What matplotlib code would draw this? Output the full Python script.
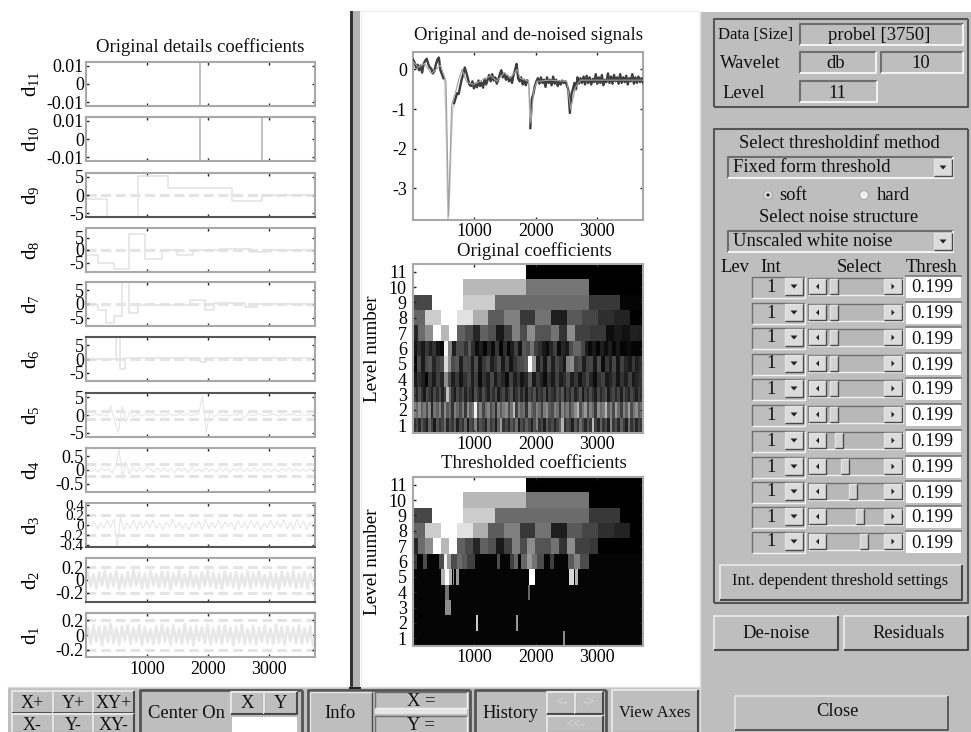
import numpy as np
import matplotlib
matplotlib.use('Agg')
import matplotlib.pyplot as plt
from matplotlib.patches import Rectangle, Circle, Polygon

plt.rcParams['font.family'] = ['Liberation Serif', 'DejaVu Serif']
plt.rcParams['mathtext.fontset'] = 'custom'
plt.rcParams['mathtext.rm'] = 'Liberation Serif'

W, H = 971, 732
GRAY = '#bebebe'

# --- detail coefficients, left column ---
d11_spikes = [1870]
d10_spikes = [1870, 2890]
d9_edges = [1, 340, 846, 1345, 2385, 2885, 3750]
d9_vals = [-1, -6, 5.3, 1.8, -1.5, 0, 0]
d8_edges = [1, 200, 459, 707, 970, 1240, 1490, 1750, 2200, 2700, 2950, 3750]
d8_vals = [-1.8, -5, -7.5, 6.5, -3.7, 0.2, -2, 0.2, 0.5, -0.8, 0, 0]
d7_edges = [1, 200, 328, 459, 585, 707, 846, 1700, 1950, 2090, 2600, 2800, 3750]
d7_vals = [-0.5, -2, -7, -4.5, 8, -3.2, -0.3, 1.5, -2, 0.3, -1, 0, 0]
d6_edges = [1, 490, 557, 640, 1860, 1960, 3750]
d6_vals = [0, 8, -3.5, 0.2, -1, 0.2, 0.2]
d5_vals = [0.1, -0.2, 0.3, -0.1, 0.2, -0.3, 2.5, -1.5, -5.0, 2.5, -2, 0.8, -0.5, 0.5, -0.3, 0.2, -0.1, 0.3, -0.2, 0.1, -0.3,
           0.2, 0.1, -0.2, 0.3, -0.1, 0.2, -0.2, 0.1, 0.3, 5.2, -5.0, 1.2, -0.5, 0.3, -0.2, 0.1, -0.3, 0.2, -0.1, 0.6, -0.9,
           0.4, -0.2, 0.1, 0.3, -0.1, -0.2, 0.2, 0.1, -0.3, 0.2, -0.1, 0.1, 0.2, -0.2, 0.1, -0.1, 0.1, 0.0]
d4_vals = [0.05, -0.06, 0.04, -0.08, 0.07, -0.03, 0.06, -0.1, 0.12, 0.75, -0.3, 0.3, -0.15, 0.1, -0.06, 0.08, -0.05, 0.1,
           0.05, -0.08, 0.06, -0.04, 0.08, -0.06, 0.05, -0.1, 0.07, -0.04, 0.06, -0.09, 0.1, -0.05, 0.04, -0.07, 0.09, -0.06,
           0.05, -0.08, 0.1, -0.06, 0.07, -0.09, 0.05, -0.05, 0.08, -0.07, 0.05, -0.06, 0.09, -0.05, 0.07, -0.08, 0.05, -0.06,
           0.04, -0.07, 0.06, -0.05, 0.08, -0.04, 0.05, -0.06, 0.03, -0.05, 0.04, -0.03]
d3_vals = [0.06, -0.03, 0.05, -0.08, 0.04, -0.06, 0.09, -0.05, 0.12, -0.45, 0.16, -0.1, 0.05, -0.07, 0.1, -0.09, 0.07, -0.06,
           0.08, -0.05, 0.1, -0.07, 0.04, -0.09, 0.06, -0.04, 0.12, -0.06, 0.05, -0.08, 0.04, -0.1, 0.06, -0.05, 0.08, -0.09,
           0.12, -0.07, 0.05, -0.06, 0.1, -0.08, 0.07, -0.04, 0.05, -0.1, 0.09, -0.06, 0.05, -0.08, 0.11, -0.05, 0.07, -0.1,
           0.04, -0.06, 0.09, -0.07, 0.06, -0.04, 0.1, -0.08, 0.05, -0.09, 0.12, -0.06, 0.08, -0.1, 0.05, -0.07]
d2_vals = [0.12, -0.1, 0.09, -0.13, 0.11, -0.08, 0.14, -0.12, 0.1, -0.09, 0.13, -0.14, 0.08, -0.11, 0.12, -0.1, 0.15, -0.09,
           0.11, -0.13, 0.1, -0.12, 0.14, -0.08, 0.09, -0.11, 0.13, -0.1, 0.12, -0.14, 0.1, -0.08, 0.15, -0.12, 0.09, -0.1,
           0.13, -0.11, 0.08, -0.13, 0.12, -0.09, 0.14, -0.1, 0.11, -0.12, 0.09, -0.14, 0.13, -0.08, 0.1, -0.11, 0.12, -0.13,
           0.09, -0.1, 0.14, -0.12, 0.11, -0.09, 0.13, -0.1, 0.08, -0.12, 0.12, -0.11, 0.1, -0.14, 0.13, -0.09, 0.11, -0.1,
           0.14, -0.12, 0.09, -0.11, 0.12, -0.13, 0.1, -0.08]
d1_vals = [0.1, -0.12, 0.13, -0.09, 0.11, -0.14, 0.12, -0.1, 0.15, -0.11, 0.09, -0.13, 0.12, -0.08, 0.14, -0.12, 0.1, -0.09,
           0.13, -0.14, 0.11, -0.1, 0.08, -0.12, 0.12, -0.11, 0.14, -0.09, 0.1, -0.13, 0.13, -0.1, 0.09, -0.12, 0.15, -0.11,
           0.11, -0.14, 0.12, -0.08, 0.1, -0.11, 0.14, -0.13, 0.09, -0.1, 0.12, -0.12, 0.13, -0.09, 0.1, -0.14, 0.11, -0.1,
           0.14, -0.12, 0.08, -0.11, 0.12, -0.13, 0.1, -0.09, 0.13, -0.11, 0.09, -0.12, 0.14, -0.1, 0.11, -0.13, 0.12, -0.08,
           0.1, -0.11, 0.13, -0.12, 0.09, -0.1, 0.12, -0.14]

detail_names = ['d11', 'd10', 'd9', 'd8', 'd7', 'd6', 'd5', 'd4', 'd3', 'd2', 'd1']
detail_limits = [0.012, 0.012, 6, 8.8, 8, 8, 6.2, 0.8, 0.44, 0.34, 0.3]
detail_thresh = [None, None, 0.1, 0.1, 0.1, 0.1, 1, 0.22, 0.2, 0.2, 0.2]
detail_ticks = [[-0.01, 0, 0.01], [-0.01, 0, 0.01], [-5, 0, 5], [-5, 0, 5], [-5, 0, 5], [-5, 0, 5], [-5, 0, 5],
                [-0.5, 0, 0.5], [-0.4, -0.2, 0, 0.2, 0.4], [-0.2, 0, 0.2], [-0.2, 0, 0.2]]
detail_ticklabels = [['-0.01', '0', '0.01'], ['-0.01', '0', '0.01'], ['-5', '0', '5'], ['-5', '0', '5'], ['-5', '0', '5'],
                     ['-5', '0', '5'], ['-5', '0', '5'], ['-0.5', '0', '0.5'], ['-0.4', '-0.2', '0', '0.2', '0.4'],
                     ['-0.2', '0', '0.2'], ['-0.2', '0', '0.2']]
detail_tops = [62, 117, 173, 228, 282, 337, 393, 448, 503, 558, 613]
detail_dark = {'d9': 'bottom', 'd6': 'top', 'd5': 'top', 'd3': 'bottom', 'd2': 'bottom'}

# --- signal panel ---
signal_y = [0.25, 0.18, 0.05, 0.12, -0.02, 0.10, -0.08, 0.14, 0.22, 0.27, 0.14, 0.05, 0.02, -0.10, -0.04, 0.12, 0.25, 0.30,
            -0.02, -0.12, -0.22, -0.32, -1.8, -3.8, -3.1, -1.9, -1.0, -0.85, -0.72, -0.6, -0.62, -0.42, -0.25, -0.12,
            0.05, -0.08, -0.22, -0.38, -0.42, -0.3, -0.48, -0.36, -0.45, -0.28, -0.42, -0.33, -0.46, -0.24, -0.38, -0.26,
            -0.14, -0.3, -0.12, -0.28, -0.2, -0.36, -0.26, -0.12, -0.02, -0.2, -0.1, -0.26, -0.16, -0.3, -0.2, -0.34,
            -0.14, -0.02, 0.14, -0.22, -0.3, -0.2, -0.38, -0.26, -0.4, -0.28, -0.4, -1.48, -0.75, -0.62, -0.42, -0.3,
            -0.22, -0.36, -0.2, -0.34, -0.26, -0.44, -0.2, -0.34, -0.26, -0.4, -0.18, -0.36, -0.26, -0.42, -0.3, -0.38,
            -0.28, -0.34, -0.3, -0.4, -0.52, -1.1, -0.62, -0.5, -0.34, -0.5, -0.2, -0.36, -0.22, -0.34, -0.18, -0.38,
            -0.16, -0.34, -0.2, -0.38, -0.24, -0.32, -0.12, -0.36, -0.2, -0.34, -0.14, -0.4, -0.26, -0.32, -0.1, -0.34,
            -0.18, -0.36, -0.14, -0.3, -0.2, -0.36, -0.12, -0.34, -0.2, -0.32, -0.16, -0.38, -0.22, -0.3, -0.12, -0.36,
            -0.2, -0.34, -0.18, -0.32, -0.22, -0.34]
denoised_x = [1, 90, 190, 300, 450, 540, 581, 630, 690, 744, 800, 880, 988, 1125, 1271, 1369, 1489, 1586, 1695, 1750, 1885,
              1923, 1967, 2021, 2230, 2510, 2570, 2650, 2730, 3750]
denoised_y = [0.2, 0.05, 0.15, -0.1, 0.1, -0.3, -3.7, -0.9, -0.6, -0.27, 0.0, -0.33, -0.38, -0.27, -0.16, -0.3, -0.08, -0.22,
              0.0, -0.22, -0.3, -1.35, -0.55, -0.3, -0.27, -0.3, -1.0, -0.45, -0.27, -0.27]

# --- coefficient images: brightness per cell ---
level_11 = [1, 0]
level_10 = [1, 0.72, 0.46, 0]
level_9 = [0.28, 1, 0.8, 0.42, 0.42, 0.42, 0.22, 0.02]
level_8 = [0.4, 0.8, 1, 0.88, 0.68, 0.36, 0.5, 0.22, 0.45, 0.12, 0.35, 0.27, 0.18, 0.14, 0]
level_7 = [0.15, 0.42, 0.55, 1, 0.72, 1, 0.38, 0.3, 0.15, 0.38, 0.32, 0.1, 0.25, 0.5, 0.3, 0.55, 0.33, 0.33, 0.45, 0.2, 0.55,
           0.25, 0.25, 0.22, 0.22, 0.05, 0.1, 0.07, 0.13, 0.12]
level_6 = [0.08, 0.18, 0.1, 0.22, 0.12, 0.2, 0.08, 0.04, 0.95, 0.5, 0.12, 0.3, 0.3, 0.2, 0.35, 0.18, 0.05, 0.12, 0.02, 0.15,
           0.05, 0.22, 0.02, 0.18, 0.02, 0.12, 0.25, 0.08, 0.35, 0.3, 0.45, 0.25, 0.18, 0.1, 0.05, 0.15, 0.25, 0.05, 0.15, 0.1,
           0.3, 0.4, 0.4, 0.28, 0.12, 0.04, 0.1, 0.02, 0.12, 0.05, 0.12, 0.03, 0.1, 0.02, 0.02, 0.05, 0.02, 0.02, 0.01]
level_5 = [0.02, 0.3, 0.1, 0.28, 0.33, 0.15, 0.25, 0.3, 0.85, 0.55, 0.3, 0.35, 0.12, 0.3, 0.28, 0.12, 0.3, 0.08, 0.22, 0.3,
           0.12, 0.2, 0.3, 0.1, 0.25, 0.08, 0.2, 0.28, 0.3, 0.35, 1.0, 0.6, 0.12, 0.25, 0.08, 0.3, 0.12, 0.28, 0.2, 0.1,
           0.5, 0.55, 0.25, 0.3, 0.12, 0.25, 0.28, 0.1, 0.3, 0.05, 0.22, 0.12, 0.28, 0.08, 0.25, 0.15, 0.1, 0.22, 0.12, 0.18]
level_4 = [0.1, 0.2, 0.12, 0.02, 0.22, 0.1, 0.25, 0.15, 0.55, 0.3, 0.12, 0.22, 0.08, 0.2, 0.28, 0.12, 0.25, 0.05, 0.2, 0.12,
           0.28, 0.1, 0.22, 0.15, 0.05, 0.25, 0.12, 0.2, 0.08, 0.15, 0.35, 0.1, 0.22, 0.14, 0.05, 0.2, 0.1, 0.25, 0.12, 0.18,
           0.3, 0.12, 0.22, 0.08, 0.18, 0.28, 0.15, 0.05, 0.2, 0.25, 0.1, 0.15, 0.22, 0.08, 0.2, 0.12, 0.25, 0.1, 0.15, 0.2]
level_3 = [0.25, 0.15, 0.32, 0.2, 0.1, 0.3, 0.22, 0.12, 0.28, 0.18, 0.3, 0.14, 0.25, 0.75, 0.4, 0.2, 0.1, 0.28, 0.2, 0.3,
           0.14, 0.26, 0.18, 0.1, 0.32, 0.22, 0.14, 0.3, 0.2, 0.12, 0.28, 0.18, 0.3, 0.1, 0.22, 0.28, 0.14, 0.24, 0.32, 0.12,
           0.2, 0.3, 0.16, 0.26, 0.1, 0.28, 0.2, 0.32, 0.14, 0.24, 0.18, 0.3, 0.1, 0.26, 0.2, 0.14, 0.3, 0.22, 0.34, 0.12,
           0.25, 0.18, 0.3, 0.14, 0.22, 0.32, 0.1, 0.26, 0.18, 0.3, 0.2, 0.12, 0.28, 0.16, 0.24, 0.3, 0.1, 0.22, 0.28, 0.16,
           0.26, 0.12, 0.3, 0.2, 0.14, 0.28, 0.2, 0.12, 0.24, 0.18]
level_2 = [0.5, 0.42, 0.55, 0.38, 0.48, 0.3, 0.52, 0.15, 0.45, 0.38, 0.5, 0.25, 0.55, 0.35, 0.42, 0.2, 0.5, 0.4, 0.3, 0.48,
           0.22, 0.55, 0.38, 0.45, 0.95, 0.35, 0.5, 0.28, 0.44, 0.52, 0.3, 0.42, 0.18, 0.5, 0.36, 0.48, 0.55, 0.3, 0.45, 0.72,
           0.25, 0.5, 0.38, 0.44, 0.2, 0.52, 0.4, 0.32, 0.5, 0.42, 0.25, 0.48, 0.55, 0.35, 0.3, 0.5, 0.44, 0.22, 0.52, 0.38,
           0.48, 0.28, 0.42, 0.55, 0.7, 0.32, 0.46, 0.6, 0.3, 0.5, 0.4, 0.22, 0.55, 0.42, 0.48, 0.72, 0.35, 0.5, 0.28, 0.6,
           0.42, 0.25, 0.5, 0.38, 0.62, 0.3, 0.45, 0.55, 0.35, 0.42]
level_1 = [0.2, 0.3, 0.15, 0.35, 0.22, 0.12, 0.38, 0.25, 0.1, 0.32, 0.2, 0.28, 0.42, 0.15, 0.3, 0.22, 0.35, 0.12, 0.28, 0.2,
           0.38, 0.1, 0.3, 0.24, 0.5, 0.18, 0.32, 0.25, 0.14, 0.4, 0.22, 0.3, 0.12, 0.36, 0.6, 0.2, 0.28, 0.16, 0.34, 0.24,
           0.42, 0.12, 0.3, 0.2, 0.36, 0.26, 0.14, 0.32, 0.5, 0.2, 0.28, 0.12, 0.35, 0.22, 0.3, 0.15, 0.26, 0.38, 0.7, 0.18,
           0.3, 0.24, 0.12, 0.34, 0.2, 0.42, 0.28, 0.15, 0.32, 0.22, 0.72, 0.26, 0.14, 0.38, 0.2, 0.3, 0.12, 0.52, 0.22, 0.32,
           0.16, 0.36, 0.24, 0.12, 0.42, 0.2, 0.3, 0.15, 0.28, 0.22]
orig_levels = [level_1, level_2, level_3, level_4, level_5, level_6, level_7, level_8, level_9, level_10, level_11]
# anchor of the cell grid and cell step for the coarse levels
coarse_anchor = {11: 1847, 10: 1847, 9: 1847, 8: 1739, 7: 1739}
coarse_step = {11: 2048, 10: 1024, 9: 512, 8: 256, 7: 128}

th_level_7 = [0.15, 0.42, 0.55, 1, 0.72, 1, 0.38, 0.3, 0.15, 0.38, 0.32, 0.1, 0.25, 0.5, 0.3, 0.55, 0.33, 0.33, 0.45, 0.2, 0.55,
              0.25, 0.25, 0.22, 0, 0, 0, 0, 0, 0]
th_level_8 = level_8
th_level_9 = [0.28, 1, 0.8, 0.42, 0.42, 0.42, 0.22, 0]
th_cells = {
    6: [(10, 65, 0.25), (158, 228, 0.3), (430, 500, 0.3), (500, 554, 0.95), (554, 620, 0.6), (620, 717, 0.3), (717, 800, 0.42),
        (800, 880, 0.35), (880, 1016, 0.25), (1369, 1423, 0.3), (1576, 1640, 0.25), (1640, 1706, 0.4), (1760, 1858, 0.4),
        (1858, 1940, 0.6), (1940, 2021, 0.45), (2021, 2130, 0.3), (2238, 2293, 0.25), (2521, 2619, 0.35), (2619, 2727, 0.5),
        (2727, 2863, 0.3)],
    5: [(460, 516, 0.7), (516, 581, 1.0), (581, 635, 0.7), (646, 673, 0.55), (700, 744, 0.6), (1885, 1995, 1.0), (2543, 2620, 0.85),
        (2640, 2684, 0.7)],
    4: [(516, 581, 0.45), (1870, 1905, 0.4)],
    3: [(527, 620, 0.55)],
    2: [(1030, 1057, 0.8), (1680, 1710, 0.6)],
    1: [(2440, 2472, 0.55)],
}

# --- control panel ---
slider_thumbs = [834, 834, 834, 834, 834, 834, 839, 845, 853, 860, 864]
row_centers = [287, 313, 338, 364, 389, 415, 441, 467, 492, 517, 542]
thresh_values = ['0.199'] * 11

xticks = [1000, 2000, 3000]
xticklabels = ['1000', '2000', '3000']
level_ticks = list(range(1, 12))
signal_ticks = [-3, -2, -1, 0]
signal_ticklabels = ['-3', '-2', '-1', '0']

fig = plt.figure(figsize=(W / 100, H / 100), dpi=100, facecolor='white')
bg = fig.add_axes([0, 0, 1, 1], zorder=0)
bg.set_xlim(0, W)
bg.set_ylim(H, 0)
bg.axis('off')


def box(x0, y0, x1, y1, face=GRAY, style='raised', lw=1.5):
    """Draw a Motif style bevelled rectangle on the background axes."""
    bg.add_patch(Rectangle((x0, y0), x1 - x0, y1 - y0, facecolor=face, edgecolor='none'))
    if style == 'raised':
        tl, br = '#e4e4e4', '#4a4a4a'
    elif style == 'sunken':
        tl, br = '#6e6e6e', '#f2f2f2'
    elif style == 'frame':
        tl, br = '#555555', '#555555'
    else:
        return
    bg.plot([x0, x0, x1], [y1, y0, y0], color=tl, lw=lw, solid_capstyle='butt')
    bg.plot([x0, x1, x1], [y1, y1, y0], color=br, lw=lw, solid_capstyle='butt')


def label(x, y, s, size=13.4, ha='center', color='#111111'):
    bg.text(x, y + 2, s, fontsize=size, ha=ha, va='center', color=color)


def arrow_button(x0, y0, x1, y1, direction):
    box(x0, y0, x1, y1, face='#dcdcdc', style='raised', lw=1)
    cx, cy = (x0 + x1) / 2, (y0 + y1) / 2
    if direction == 'down':
        pts = [(cx - 3.5, cy - 2), (cx + 3.5, cy - 2), (cx, cy + 2)]
    elif direction == 'left':
        pts = [(cx + 1.5, cy - 3), (cx + 1.5, cy + 3), (cx - 1.5, cy)]
    else:
        pts = [(cx - 1.5, cy - 3), (cx - 1.5, cy + 3), (cx + 1.5, cy)]
    bg.add_patch(Polygon(pts, facecolor='#222222', edgecolor='none'))


# window chrome
bg.add_patch(Rectangle((700, 12), 271, 720, facecolor=GRAY, edgecolor='none'))
bg.plot([700, 700], [12, 732], color='#dddddd', lw=1)
bg.add_patch(Rectangle((8, 687), 692, 45, facecolor=GRAY, edgecolor='none'))
bg.plot([8, 700], [687, 687], color='#dddddd', lw=1)
# vertical divider
bg.add_patch(Rectangle((350, 11), 10, 677, facecolor='#b4b4b4', edgecolor='none'))
bg.add_patch(Rectangle((350, 11), 2.5, 677, facecolor='#333333', edgecolor='none'))
bg.plot([360.5, 360.5], [11, 687], color='#eeeeee', lw=1)
bg.plot([361, 699], [11, 11], color='#eeeeee', lw=1)
bg.plot([350, 360], [688, 688], color='#222222', lw=1.5)

# bottom toolbar
for (x0, x1, t1, t2) in [(12, 53, 'X+', 'X-'), (53, 93, 'Y+', 'Y-'), (93, 134, 'XY+', 'XY-')]:
    box(x0, 691, x1, 713)
    box(x0, 714, x1, 733)
    label((x0 + x1) / 2, 701, t1, size=13)
    label((x0 + x1) / 2, 723, t2, size=13)
box(140, 690, 302, 733, style='frame', lw=2)
label(186, 711, 'Center On')
box(231, 692, 264, 714)
box(264, 692, 297, 714)
label(247, 701, 'X')
label(281, 701, 'Y')
box(232, 717, 297, 733, face='white', style='none')
box(308, 690, 470, 733, style='frame', lw=2)
box(310, 692, 372, 733, lw=1)
label(340, 711, 'Info')
box(375, 692, 467, 708, style='sunken', lw=1)
box(375, 709, 467, 714, face='#e6e6e6', style='none')
box(375, 716, 467, 733, style='sunken', lw=1)
label(421, 700, 'X =')
label(421, 723, 'Y =')
box(475, 690, 606, 733, style='frame', lw=2)
label(510, 711, 'History')
box(547, 692, 575, 714)
box(575, 692, 603, 714)
box(547, 716, 603, 733)
label(561, 701, '<-', size=10, color='#dddddd')
label(589, 701, '->', size=10, color='#dddddd')
label(575, 723, '<<-', size=10, color='#dddddd')
box(612, 690, 698, 733)
label(655, 711, 'View Axes', size=11.8)

# right panel, top group
box(714, 19, 968, 107, style='frame', lw=1.5)
label(718, 33, 'Data [Size]', ha='left', size=12)
box(800, 24, 963, 45, style='sunken')
label(879, 33, 'probel [3750]')
label(720, 61, 'Wavelet', ha='left')
box(800, 52, 876, 73, style='sunken')
label(836, 61, 'db')
box(881, 52, 963, 73, style='sunken')
label(921, 61, '10')
label(722, 91, 'Level', ha='left')
box(800, 81, 877, 102, style='sunken')
label(837, 91, '11')

# right panel, thresholding group
box(714, 129, 968, 603, style='frame', lw=1.5)
label(839, 141, 'Select thresholdinf method')
box(728, 157, 953, 178, style='sunken')
label(733, 165, 'Fixed form threshold', ha='left')
arrow_button(934, 159, 952, 176, 'down')
bg.add_patch(Circle((768, 195), 4.5, facecolor='#dddddd', edgecolor='#aaaaaa', lw=0.8))
bg.add_patch(Circle((768, 195), 1.5, facecolor='#111111', edgecolor='none'))
label(779, 193, 'soft', ha='left')
bg.add_patch(Circle((864, 195), 4.5, facecolor='#eeeeee', edgecolor='#aaaaaa', lw=0.8))
label(877, 193, 'hard', ha='left')
label(839, 216, 'Select noise structure')
box(728, 231, 953, 252, style='sunken')
label(733, 239, 'Unscaled white noise', ha='left')
arrow_button(934, 233, 952, 250, 'down')
label(720, 265, 'Lev', ha='left')
label(760, 265, 'Int', ha='left')
label(859, 265, 'Select')
label(932, 265, 'Thresh')
for yc, thumb, val in zip(row_centers, slider_thumbs, thresh_values):
    box(752, yc - 10, 805, yc + 11, style='sunken', lw=1)
    label(771, yc - 2, '1')
    arrow_button(785, yc - 9, 803, yc + 8, 'down')
    box(808, yc - 9, 903, yc + 8, face='#b8b8b8', style='sunken', lw=1)
    arrow_button(809, yc - 8, 826, yc + 7, 'left')
    arrow_button(884, yc - 8, 902, yc + 7, 'right')
    box(thumb - 4, yc - 8, thumb + 4, yc + 7, face='#d2d2d2', lw=1)
    box(906, yc - 11, 961, yc + 11, face='white', style='none')
    bg.plot([906, 961], [yc - 11, yc - 11], color='#777777', lw=1.2)
    label(932, yc - 1, val)
box(720, 565, 962, 600)
label(840, 579, 'Int. dependent threshold settings', size=12)
box(714, 616, 838, 650)
label(776, 631, 'De-noise')
box(844, 616, 968, 650)
label(909, 631, 'Residuals')
box(735, 696, 948, 730, lw=1.2)
label(837, 709, 'Close')


def make_axes(x0, y0, x1, y1):
    ax = fig.add_axes([x0 / W, 1 - y1 / H, (x1 - x0) / W, (y1 - y0) / H], zorder=2)
    ax.set_xlim(1, 3750)
    ax.set_xticks(xticks)
    ax.set_xticklabels([])
    ax.tick_params(direction='in', length=2, width=1, top=True, right=True, color='#222222', labelsize=13, pad=1.5)
    for s in ax.spines.values():
        s.set_color('#a8a8a8')
        s.set_linewidth(1.5)
    return ax


# left column
detail_steps = {'d9': (d9_edges, d9_vals), 'd8': (d8_edges, d8_vals), 'd7': (d7_edges, d7_vals), 'd6': (d6_edges, d6_vals)}
detail_noise = {'d5': d5_vals, 'd4': d4_vals, 'd3': d3_vals}
detail_band = {'d2': d2_vals, 'd1': d1_vals}
detail_vlines = {'d11': d11_spikes, 'd10': d10_spikes}
for i, name in enumerate(detail_names):
    ax = make_axes(86, detail_tops[i], 315, detail_tops[i] + 44)
    lim = detail_limits[i]
    ax.set_ylim(-lim, lim)
    ax.set_yticks(detail_ticks[i])
    ax.set_yticklabels(detail_ticklabels[i], fontsize=11 if name == 'd3' else 13)
    if name in detail_vlines:
        for xv in detail_vlines[name]:
            ax.axvline(xv, color='#b4b4b4', lw=1.2)
    if detail_thresh[i] is not None:
        t = detail_thresh[i]
        for sign in (1, -1):
            ax.axhline(sign * t, color='#e4e4e4', lw=2.2, dashes=(3.2, 1.6), zorder=1)
    if name in detail_steps:
        e, v = detail_steps[name]
        ax.step(e, v, where='post', color='#e2e2e2', lw=1.1, zorder=2)
    if name in detail_noise:
        v = detail_noise[name]
        ax.plot(np.linspace(30, 3720, len(v)), v, color='#e6e6e6', lw=0.8, zorder=2)
    if name in detail_band:
        v = detail_band[name]
        ax.plot(np.linspace(30, 3720, len(v)), v, color='#e8e8e8', lw=2, zorder=2)
    if name in detail_dark:
        ax.spines[detail_dark[name]].set_color('#555555')
    sub = name[1:]
    ax.set_ylabel(r'$\mathrm{d}_{%s}$' % sub, fontsize=15, rotation=90)
    ax.yaxis.set_label_coords(-0.19, 0.5)
    if name == 'd1':
        ax.set_xticklabels(xticklabels)
        ax.tick_params(axis='x', pad=3)
    if i == 0:
        ax.set_title('Original details coefficients', fontsize=13.5, pad=7, color='#111111')

# signal
ax = make_axes(413, 52, 643, 220)
ax.set_ylim(-3.8, 0.44)
ax.set_yticks(signal_ticks)
ax.set_yticklabels(signal_ticklabels, fontsize=13)
ax.set_xticklabels(xticklabels)
ax.tick_params(axis='x', pad=2)
ax.tick_params(axis='y', pad=4.5)
sy = np.array(signal_y)
sx = np.linspace(1, 3750, len(sy))
ax.plot(sx, sy, color='#c4c4c4', lw=1.1, zorder=2)
steep = np.abs(np.gradient(sy)) > 0.5
ax.plot(sx, np.where(steep, np.nan, sy), color='#3e3e3e', lw=1.7, zorder=3)
ax.plot(denoised_x, denoised_y, color='#a0a0a0', lw=0.8, zorder=4)
ax.set_title('Original and de-noised signals', fontsize=13.5, pad=8.5, color='#111111')


def draw_cells(ax, level, edges, values):
    ax.pcolormesh(np.asarray(edges, float), [level - 0.5, level + 0.5], np.asarray(values, float).reshape(1, -1),
                  cmap='gray', vmin=0, vmax=1, shading='flat', linewidth=0, antialiased=False, rasterized=True)


def level_edges(level, n_cells):
    if level in coarse_step:
        anchor, step = coarse_anchor[level], coarse_step[level]
        # cells counted backwards from the anchor until the left border
        k0 = int(np.ceil((anchor - 1) / step))
        e = anchor + step * (np.arange(n_cells + 1) - k0)
        e = np.clip(e, 1, 3750)
        e[-1] = 3750
        return e
    return np.linspace(1, 3750, n_cells + 1)


def image_axes(y0, y1, title, title_pad):
    ax = make_axes(413, y0, 643, y1)
    ax.set_facecolor('#050505')
    ax.set_ylim(0.5, 11.5)
    ax.set_yticks(level_ticks)
    ax.set_yticklabels([str(t) for t in level_ticks], fontsize=13)
    ax.set_xticklabels(xticklabels)
    ax.tick_params(axis='x', pad=2)
    ax.tick_params(axis='y', pad=4.5)
    ax.set_ylabel('Level number', fontsize=13.8)
    ax.yaxis.set_label_coords(-0.139, 0.5)
    ax.set_title(title, fontsize=13.5, x=0.526, pad=title_pad, color='#111111')
    return ax


ax = image_axes(264, 433, 'Original coefficients', 5.5)
for lev, vals in enumerate(orig_levels, start=1):
    draw_cells(ax, lev, level_edges(lev, len(vals)), vals)

ax = image_axes(477, 646, 'Thresholded coefficients', 6.5)
th_upper = {7: th_level_7, 8: th_level_8, 9: th_level_9, 10: level_10, 11: level_11}
for lev, vals in th_upper.items():
    draw_cells(ax, lev, level_edges(lev, len(vals)), vals)
for lev, cells in th_cells.items():
    for x0, x1, v in cells:
        draw_cells(ax, lev, [x0, x1], [v])

fig.savefig('out.png', dpi=100, facecolor='white')
